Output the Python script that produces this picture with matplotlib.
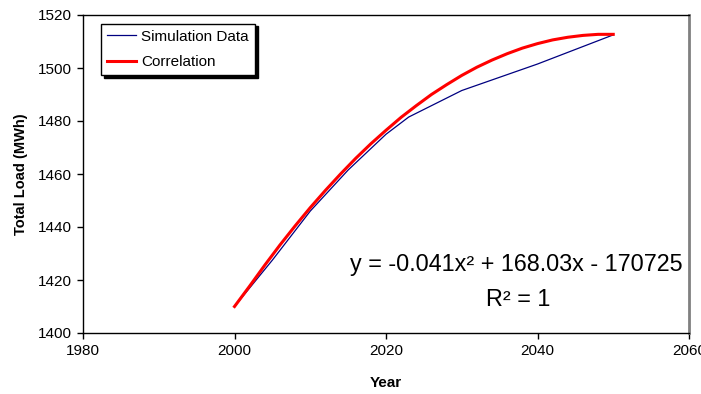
import matplotlib
matplotlib.use("Agg")
import matplotlib.pyplot as plt

plt.rcParams['font.family'] = ['Liberation Sans', 'DejaVu Sans']

# Simulation data
sim_years = [2000, 2005, 2010, 2015, 2020, 2023, 2030, 2035, 2040, 2045, 2050]
sim_load = [1410.0, 1427.5, 1446.0, 1461.5, 1475.0, 1481.5, 1491.5, 1496.5, 1501.5, 1507.0, 1512.5]

# Correlation curve
corr_years = [2000, 2002, 2004, 2006, 2008, 2010, 2012, 2014, 2016, 2018, 2020, 2022, 2024,
              2026, 2028, 2030, 2032, 2034, 2036, 2038, 2040, 2042, 2044, 2046, 2048, 2050]
corr_load = [1410.0, 1417.7, 1425.6, 1433.2, 1440.4, 1447.3, 1453.8, 1460.0, 1465.9, 1471.4,
             1476.5, 1481.4, 1485.8, 1490.0, 1493.7, 1497.2, 1500.3, 1503.0, 1505.4, 1507.5,
             1509.2, 1510.6, 1511.6, 1512.3, 1512.7, 1512.7]

x_ticks = [1980, 2000, 2020, 2040, 2060]
y_ticks = [1400, 1420, 1440, 1460, 1480, 1500, 1520]

fig = plt.figure(figsize=(7.01, 3.94), dpi=100)
ax = fig.add_axes([83 / 701, 1 - 333 / 394, 606 / 701, 318 / 394])

ax.plot(sim_years, sim_load, color='#000080', lw=0.9, label='Simulation Data', zorder=2)
ax.plot(corr_years, corr_load, color='#ff0000', lw=2.2, label='Correlation', zorder=3)

ax.set_xlim(1980, 2060)
ax.set_ylim(1400, 1520)
ax.set_xticks(x_ticks)
ax.set_yticks(y_ticks)
ax.tick_params(direction='out', length=4, width=1, labelsize=11, colors='black', pad=4)

for s in ['left', 'bottom', 'top']:
    ax.spines[s].set_color('black')
    ax.spines[s].set_linewidth(1)
ax.spines['right'].set_color('#808080')
ax.spines['right'].set_linewidth(2)

ax.set_xlabel('Year', fontsize=11, fontweight='bold', labelpad=13)
ax.set_ylabel('Total Load (MWh)', fontsize=10.5, fontweight='bold', labelpad=7)

leg = ax.legend(loc='upper left', bbox_to_anchor=(18 / 606, 309.5 / 318), borderaxespad=0,
                fontsize=11, fancybox=False, edgecolor='black', framealpha=1,
                shadow={'color': 'black', 'alpha': 1}, handlelength=1.9,
                handletextpad=0.35, labelspacing=0.75, borderpad=0.4)
leg.get_frame().set_linewidth(1)

ax.text(2037.2, 1426.0, 'y = -0.041x² + 168.03x - 170725', fontsize=16.8,
        ha='center', va='center')
ax.text(2037.5, 1412.8, 'R² = 1', fontsize=16.8, ha='center', va='center')

fig.savefig('out.png', dpi=100)
